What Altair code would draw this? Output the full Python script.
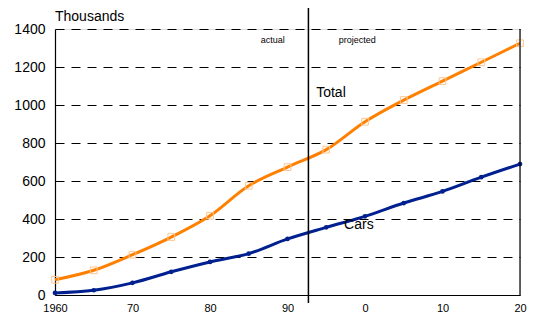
import altair as alt
import pandas as pd

years = [1960, 1965, 1970, 1975, 1980, 1985, 1990, 1995, 2000, 2005, 2010, 2015, 2020]
total = [80, 130, 212, 305, 417, 575, 673, 765, 912, 1026, 1126, 1225, 1325]
cars = [11, 25, 64, 122, 174, 218, 295, 356, 414, 484, 545, 620, 689]

split_year = 1992.7
x_ticks = [1960, 1970, 1980, 1990, 2000, 2010, 2020]
y_ticks = [0, 200, 400, 600, 800, 1000, 1200, 1400]

df = pd.DataFrame({"year": years, "Total": total, "Cars": cars})

xscale = alt.Scale(domain=[1960, 2020], nice=False, zero=False)
yscale = alt.Scale(domain=[0, 1400], nice=False)

xaxis = alt.Axis(values=x_ticks, title=None, grid=False, ticks=False,
                 labelExpr="datum.value == 1960 ? '1960' : (datum.value % 100 == 0 ? '0' : '' + (datum.value % 100))",
                 labelFont="Liberation Sans", labelFontSize=11, labelColor="#000000",
                 labelFlush=False, labelOverlap=False, labelBound=False,
                 labelPadding=7, domainColor="#000000", domainWidth=1.2)
yaxis = alt.Axis(values=y_ticks, title=None, grid=True, gridDash=[9, 7], gridColor="#000000",
                 gridWidth=1, ticks=False, format="d", labelFont="Liberation Sans", labelFontSize=14,
                 labelFlush=False, labelOverlap=False, labelBound=False,
                 labelColor="#000000", labelPadding=10, domainColor="#000000", domainWidth=1.2)

base = alt.Chart(df)

def xe(field):
    return alt.X(field, scale=xscale, axis=xaxis)

def ye(field):
    return alt.Y(field, scale=yscale, axis=yaxis)

total_line = base.mark_line(color="#FF8000", strokeWidth=3, interpolate="catmull-rom").encode(
    x=xe("year:Q"), y=ye("Total:Q")
)
total_pts = base.mark_point(shape="square", filled=False, color="#FFC590", size=45, strokeWidth=1, opacity=1).encode(
    x=xe("year:Q"), y=ye("Total:Q")
)
cars_line = base.mark_line(color="#002090", strokeWidth=3, interpolate="catmull-rom").encode(
    x=xe("year:Q"), y=ye("Cars:Q")
)
cars_pts = base.mark_point(shape="circle", filled=True, color="#002090", size=22, opacity=1).encode(
    x=xe("year:Q"), y=ye("Cars:Q")
)

split = alt.Chart(pd.DataFrame({"x": [split_year]})).mark_rule(color="#000000", strokeWidth=1.5).encode(
    x=xe("x:Q"), y=alt.value(-21), y2=alt.value(274)
)
right_border = alt.Chart(pd.DataFrame({"x": [2020], "y0": [0], "y1": [1400]})).mark_rule(
    color="#000000", strokeWidth=1.2).encode(
    x=xe("x:Q"), y=ye("y0:Q"), y2="y1:Q"
)

labels = pd.DataFrame({
    "x": [1988.1, 1999.0, 1993.7, 1997.3],
    "y": [1341, 1341, 1065, 370],
    "t": ["actual", "projected", "Total", "Cars"],
})
small = alt.Chart(labels.iloc[:2]).mark_text(font="Liberation Sans", fontSize=9, color="#000000", align="center", baseline="middle").encode(
    x=xe("x:Q"), y=ye("y:Q"), text="t:N"
)
big = alt.Chart(labels.iloc[2:]).mark_text(font="Liberation Sans", fontSize=14, color="#000000", align="left", baseline="middle").encode(
    x=xe("x:Q"), y=ye("y:Q"), text="t:N"
)
thousands = alt.Chart(pd.DataFrame({"x": [1960], "y": [1463], "t": ["Thousands"]})).mark_text(
    font="Liberation Sans", fontSize=14, color="#000000", align="left", baseline="middle").encode(
    x=xe("x:Q"), y=ye("y:Q"), text="t:N"
)

chart = alt.layer(total_line, total_pts, cars_line, cars_pts, split, right_border, small, big, thousands).properties(
    width=465, height=266,
    autosize=alt.AutoSizeParams(type="none"),
    padding={"left": 47, "top": 21, "right": 10, "bottom": 22},
).configure_view(strokeWidth=0, stroke="transparent").configure(background="#FFFFFF")

chart.save("out.html", embed_options={"renderer": "svg", "actions": False})
